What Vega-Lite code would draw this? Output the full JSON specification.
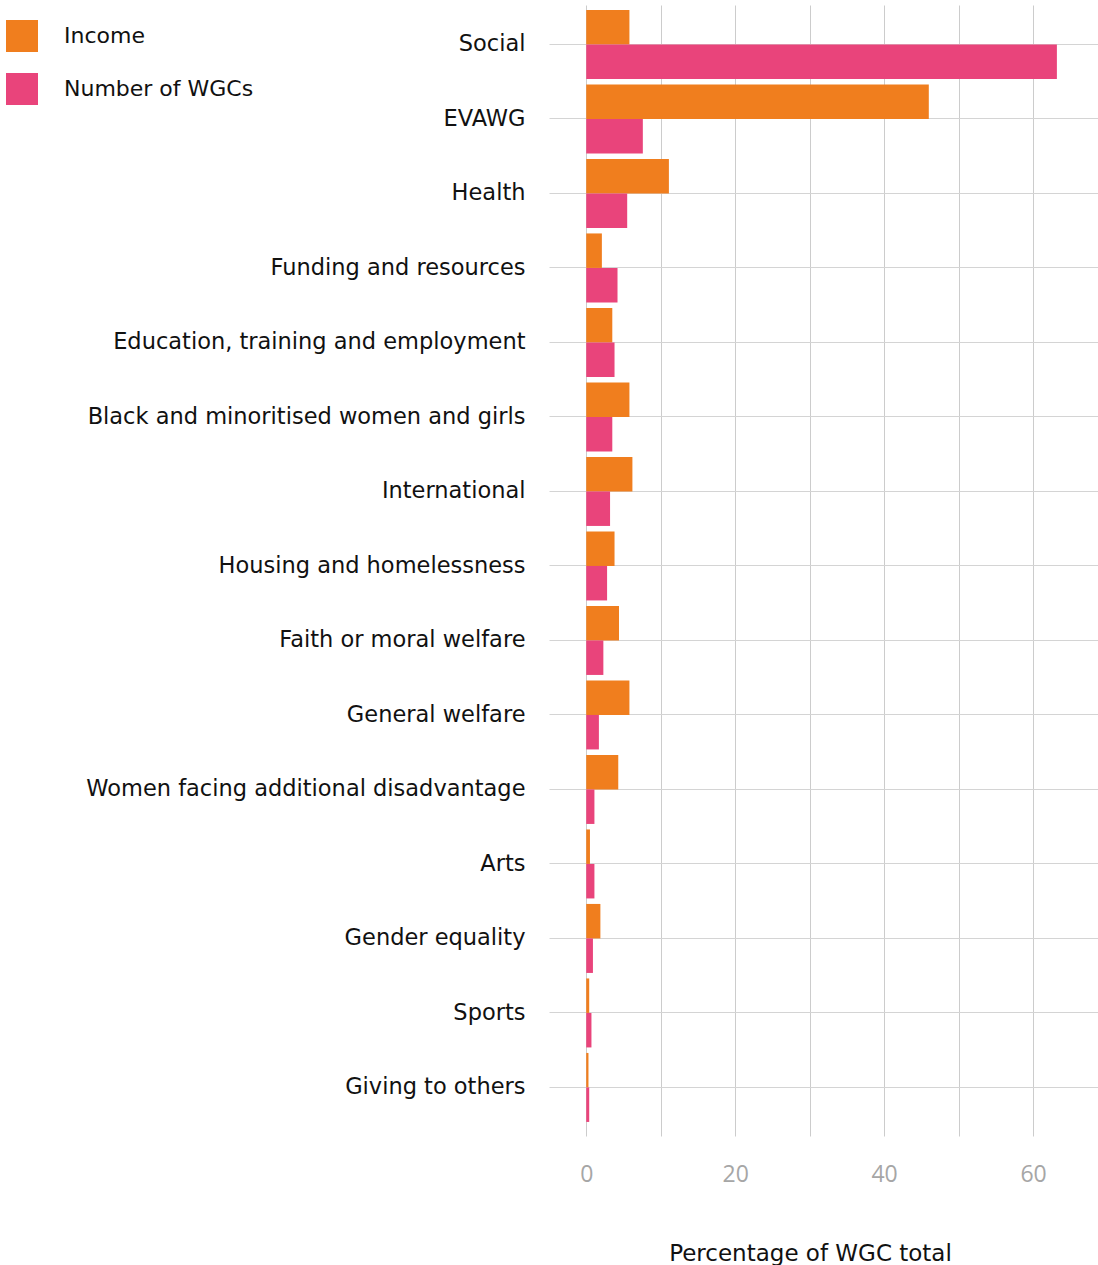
{
  "$schema": "https://vega.github.io/schema/vega-lite/v6.json",
  "autosize": {"type": "none"},
  "width": 549,
  "height": 1131,
  "padding": {"left": 549, "top": 5, "right": 0, "bottom": 129},
  "background": "white",
  "config": {
    "view": {"stroke": null},
    "font": "DejaVu Sans"
  },
  "data": {
    "values": [
      {"category": "Social", "series": "Income", "value": 5.8},
      {"category": "Social", "series": "Number of WGCs", "value": 63.2},
      {"category": "EVAWG", "series": "Income", "value": 46.0},
      {"category": "EVAWG", "series": "Number of WGCs", "value": 7.6},
      {"category": "Health", "series": "Income", "value": 11.1},
      {"category": "Health", "series": "Number of WGCs", "value": 5.5},
      {"category": "Funding and resources", "series": "Income", "value": 2.1},
      {"category": "Funding and resources", "series": "Number of WGCs", "value": 4.2},
      {"category": "Education, training and employment", "series": "Income", "value": 3.5},
      {"category": "Education, training and employment", "series": "Number of WGCs", "value": 3.8},
      {"category": "Black and minoritised women and girls", "series": "Income", "value": 5.8},
      {"category": "Black and minoritised women and girls", "series": "Number of WGCs", "value": 3.5},
      {"category": "International", "series": "Income", "value": 6.2},
      {"category": "International", "series": "Number of WGCs", "value": 3.2},
      {"category": "Housing and homelessness", "series": "Income", "value": 3.8},
      {"category": "Housing and homelessness", "series": "Number of WGCs", "value": 2.8},
      {"category": "Faith or moral welfare", "series": "Income", "value": 4.4},
      {"category": "Faith or moral welfare", "series": "Number of WGCs", "value": 2.3},
      {"category": "General welfare", "series": "Income", "value": 5.8},
      {"category": "General welfare", "series": "Number of WGCs", "value": 1.7},
      {"category": "Women facing additional disadvantage", "series": "Income", "value": 4.3},
      {"category": "Women facing additional disadvantage", "series": "Number of WGCs", "value": 1.1},
      {"category": "Arts", "series": "Income", "value": 0.5},
      {"category": "Arts", "series": "Number of WGCs", "value": 1.1},
      {"category": "Gender equality", "series": "Income", "value": 1.9},
      {"category": "Gender equality", "series": "Number of WGCs", "value": 0.9},
      {"category": "Sports", "series": "Income", "value": 0.4},
      {"category": "Sports", "series": "Number of WGCs", "value": 0.7},
      {"category": "Giving to others", "series": "Income", "value": 0.3},
      {"category": "Giving to others", "series": "Number of WGCs", "value": 0.4}
    ]
  },
  "mark": {"type": "bar"},
  "encoding": {
    "y": {
      "field": "category",
      "type": "nominal",
      "sort": null,
      "scale": {"paddingInner": 0.0738, "paddingOuter": 0.1275, "align": 0.26},
      "axis": {
        "title": null,
        "grid": true,
        "bandPosition": 0.5,
        "gridColor": "#d4d4d4",
        "gridWidth": 1,
        "domain": false,
        "ticks": false,
        "labelFontSize": 22.5,
        "labelColor": "#111111",
        "labelPadding": 24,
        "labelLimit": 600
      }
    },
    "yOffset": {
      "field": "series",
      "type": "nominal",
      "sort": ["Income", "Number of WGCs"],
      "scale": {"paddingInner": 0, "paddingOuter": 0}
    },
    "x": {
      "field": "value",
      "type": "quantitative",
      "scale": {"domain": [-5, 68.72], "nice": false, "zero": false},
      "axis": {
        "title": "Percentage of WGC total",
        "titleFont": "DejaVu Sans",
        "titleFontSize": 23,
        "titleFontWeight": "normal",
        "titleColor": "#111111",
        "titleX": 261,
        "titleY": 124,
        "titleAlign": "center",
        "titleBaseline": "alphabetic",
        "values": [0, 10, 20, 30, 40, 50, 60],
        "labelExpr": "datum.value % 20 === 0 ? datum.label : ''",
        "labelFont": "Open Sans",
        "grid": true,
        "gridColor": "#cccccc",
        "domain": false,
        "ticks": false,
        "labelFontSize": 23,
        "labelColor": "#a6a6a6",
        "labelPadding": 27
      }
    },
    "color": {
      "field": "series",
      "type": "nominal",
      "scale": {"domain": ["Income", "Number of WGCs"], "range": ["#f07e1e", "#e9447b"]},
      "legend": {
        "title": null,
        "orient": "none",
        "legendX": -543,
        "legendY": 15,
        "padding": 0,
        "symbolType": "square",
        "symbolSize": 1024,
        "symbolStrokeWidth": 0,
        "labelFontSize": 22,
        "labelColor": "#111111",
        "labelOffset": 26,
        "labelLimit": 400,
        "rowPadding": 21
      }
    }
  }
}
